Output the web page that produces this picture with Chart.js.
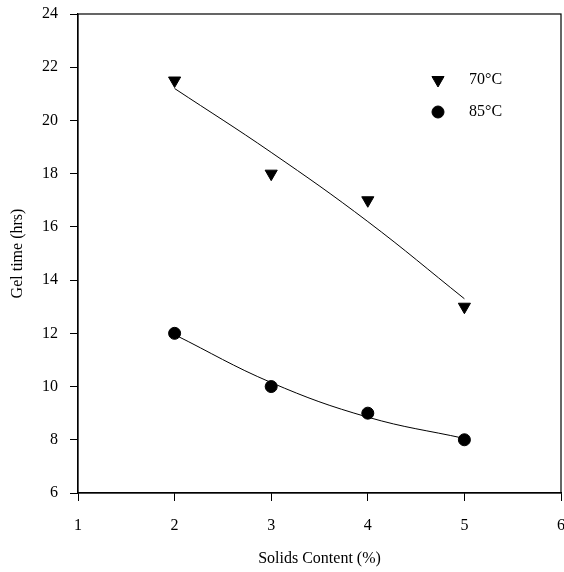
<!DOCTYPE html>
<html>
<head>
<meta charset="utf-8">
<script src="https://cdn.jsdelivr.net/npm/chart.js@4/dist/chart.umd.min.js"></script>
<style>
  html, body { margin: 0; padding: 0; background: #fff; overflow: hidden; }
  #caixa { width: 564px; height: 572px; overflow: hidden; }
</style>
</head>
<body>
<div id="caixa"><canvas id="grafic" width="569" height="572"></canvas></div>
<script>
// Dades llegides del gràfic
const solids = [2, 3, 4, 5];
const gel70 = [21.5, 18, 17, 13];
const gel85 = [12, 10, 9, 8];
// corbes d'ajust (llegides de la imatge)
const fit70 = [21.2, 18.8, 16.2, 13.3];
const fit85 = [11.95, 10.15, 8.85, 8.05];
const xTicks = [1, 2, 3, 4, 5, 6];
const yTicks = [6, 8, 10, 12, 14, 16, 18, 20, 22, 24];
const labels = ['70°C', '85°C'];

const FONT = 'Liberation Serif';
const toPts = (ys) => solids.map((x, i) => ({ x, y: ys[i] }));

// Llegenda dins l'àrea del gràfic
const llegenda = {
    id: 'llegenda',
    afterDatasetsDraw(chart) {
        const { ctx, chartArea } = chart;
        const files = [
            { ds: chart.data.datasets[0], y: chartArea.top + 66 },
            { ds: chart.data.datasets[1], y: chartArea.top + 98 }
        ];
        ctx.save();
        files.forEach(f => {
            ctx.fillStyle = '#000';
            ctx.strokeStyle = '#000';
            Chart.helpers.drawPoint(ctx, {
                pointStyle: f.ds.pointStyle,
                radius: f.ds.pointRadius,
                rotation: f.ds.rotation || 0,
                borderWidth: 1
            }, chartArea.left + 360, f.y);
            ctx.font = '16px ' + FONT;
            ctx.textBaseline = 'middle';
            ctx.fillText(f.ds.label, chartArea.left + 391, f.y);
        });
        ctx.restore();
    }
};

// Marc complet de l'àrea
const marc = {
    id: 'marc',
    afterDraw(chart) {
        const { ctx, chartArea: a } = chart;
        ctx.save();
        ctx.strokeStyle = '#000';
        ctx.lineWidth = 1.2;
        ctx.strokeRect(a.left, a.top, a.right - a.left, a.bottom - a.top);
        ctx.restore();
    }
};

new Chart(document.getElementById('grafic'), {
    type: 'scatter',
    data: {
        datasets: [
            {
                label: labels[0], data: toPts(gel70),
                pointStyle: 'triangle', rotation: 180, pointRadius: 7,
                backgroundColor: '#000', borderColor: '#000', showLine: false
            },
            {
                label: labels[1], data: toPts(gel85),
                pointStyle: 'circle', pointRadius: 6,
                backgroundColor: '#000', borderColor: '#000', showLine: false
            },
            {
                label: 'fit70', data: toPts(fit70), showLine: true,
                pointRadius: 0, borderColor: '#000', borderWidth: 1, tension: 0.4
            },
            {
                label: 'fit85', data: toPts(fit85), showLine: true,
                pointRadius: 0, borderColor: '#000', borderWidth: 1, tension: 0.4
            }
        ]
    },
    options: {
        responsive: false,
        animation: false,
        layout: { padding: { top: 14, right: 0, left: 0, bottom: 0 } },
        plugins: { legend: { display: false }, tooltip: { enabled: false } },
        scales: {
            x: {
                type: 'linear', min: 1, max: 6,
                afterBuildTicks: (s) => { s.ticks = xTicks.map(v => ({ value: v })); },
                afterFit: (s) => { s.paddingRight = 0; s.paddingLeft = 0; s.height = 79; },
                grid: { drawOnChartArea: false, tickLength: 8, color: '#000' },
                border: { color: '#000', width: 1.2 },
                ticks: { color: '#000', font: { family: FONT, size: 16 }, padding: 15 },
                title: { display: true, text: 'Solids Content (%)', color: '#000',
                         font: { family: FONT, size: 16 }, padding: { top: 10 } }
            },
            y: {
                type: 'linear', min: 6, max: 24,
                afterBuildTicks: (s) => { s.ticks = yTicks.map(v => ({ value: v })); },
                afterFit: (s) => { s.width = 78; s.paddingTop = 0; s.paddingBottom = 0; },
                grid: { drawOnChartArea: false, tickLength: 8, color: '#000' },
                border: { color: '#000', width: 1.2 },
                ticks: { color: '#000', font: { family: FONT, size: 16 }, padding: 12 },
                title: { display: true, text: 'Gel time (hrs)', color: '#000',
                         font: { family: FONT, size: 16 }, padding: { top: 8, bottom: 4 } }
            }
        }
    },
    plugins: [llegenda, marc]
});
</script>
</body>
</html>
